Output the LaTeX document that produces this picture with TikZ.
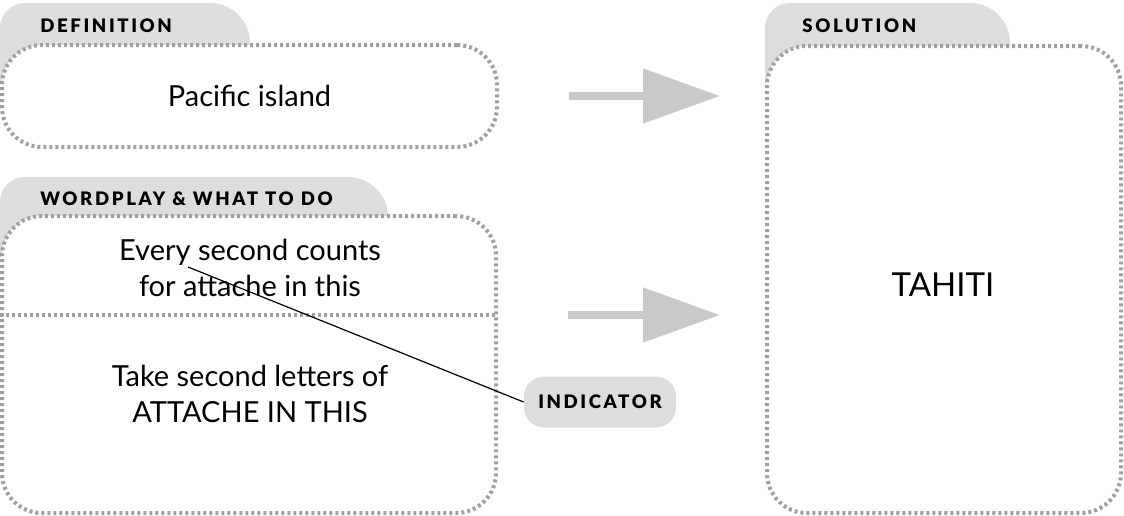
\documentclass[tikz,border=0pt]{standalone}
\usepackage{fontspec}
\setmainfont{Lato}
\newfontfamily\tabfont{Lato Black}[LetterSpace=14]
\usetikzlibrary{arrows.meta,calc,positioning}
\definecolor{tabgray}{RGB}{220,221,223}
\definecolor{dotgray}{RGB}{160,160,162}
\definecolor{arrowgray}{RGB}{200,201,203}

\begin{document}
\begin{tikzpicture}[
  x=0.5pt, y=-0.5pt,
  dots/.style={draw=dotgray, line width=2pt, dash pattern=on 1.5pt off 1.5pt},
  panel/.style={dots, fill=white, rounded corners=20pt, inner sep=0pt},
  tab/.style={fill=tabgray},
  tablabel/.style={font=\tabfont\fontsize{9.3}{11}\selectfont, anchor=base west, inner sep=0pt},
  indbox/.style={fill=tabgray, rounded corners=10pt, minimum width=76pt, minimum height=25.5pt,
    font=\tabfont\fontsize{9.3}{11}\selectfont},
  clue/.style={font=\fontsize{14.5}{18}\selectfont, align=center},
  flow/.style={arrowgray, line width=4pt, -{Triangle[length=38.5pt, width=26.5pt]}},
  pointer/.style={line width=0.6pt}
]
  \useasboundingbox (0,0) rectangle (1124,515);

  % tabs behind the panels
  \foreach \x/\y/\w in {0/3/250, 0/177/388, 765/3/1010}
    \fill[tab] (\x,\y+80) -- (\x,\y+25) arc[start angle=180, end angle=270, radius=25]
      -- (\w-40,\y) arc[start angle=270, end angle=360, radius=40] -- (\w,\y+80) -- cycle;

  % panels
  \node[panel, minimum width=247.5pt, minimum height=51pt] (def) at (249.5,96) {};
  \node[panel, minimum width=247pt, minimum height=148.5pt] (wp) at (249,364.5) {};
  \node[panel, minimum width=177pt, minimum height=233.5pt] (sol) at (944,279.5) {};

  \node[tablabel] (deflabel) at (40,32) {DEFINITION};
  \node[tablabel] (wplabel) at (40,205) {WORDPLAY \& WHAT TO DO};
  \node[tablabel] (sollabel) at (802,32) {SOLUTION};

  \node[clue] (island) at (def.center) {Pacific island};
  \coordinate (split) at (0,315);
  \draw[dots] (wp.west |- split) -- (wp.east |- split);
  \node[clue] (wordplay) at (250,268) {Every second counts\\for attache in this};
  \node[clue] (todo) at (250,394) {Take second letters of\\ATTACHE IN THIS};
  \node[font=\fontsize{16.5}{20}\selectfont] (answer) at (943,285) {TAHITI};

  % indicator
  \node[indbox] (ind) at (600,402) {INDICATOR};
  \coordinate (cue) at (188,267);
  \draw[pointer] (cue) -- (ind.west);

  % arrows
  \draw[flow] ([xshift=35pt]def.east) -- ([xshift=-22.5pt]sol.west |- def.east);
  \draw[flow] ([xshift=35pt]wp.east |- split) -- ([xshift=-22.5pt]sol.west |- split);
\end{tikzpicture}
\end{document}
